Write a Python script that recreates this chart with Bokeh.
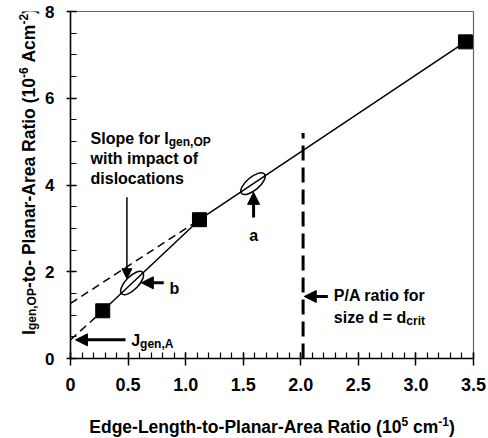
import math
from bokeh.plotting import figure
from bokeh.layouts import row, column
from bokeh.models import Range1d, FixedTicker, Label, Arrow, NormalHead
from bokeh.embed import file_html
from bokeh.resources import INLINE

# ---------------- data ----------------
edge_ratio = [0.28, 1.12, 3.43]          # 10^5 cm^-1
current_ratio = [1.1, 3.2, 7.3]          # 10^-6 A cm^-2
ext_low_x = [0.0, 0.28]
ext_low_y = [0.43, 1.1]
ext_up_x = [0.0, 1.12]
ext_up_y = [1.27, 3.2]
crit_x = [2.02, 2.02]
crit_y = [0.0, 5.2]
ellipse_x = [0.535, 1.585]
ellipse_y = [1.74, 4.03]
ellipse_angle = [0.80, 0.70]
x_ticks = [0, 0.5, 1.0, 1.5, 2.0, 2.5, 3.0, 3.5]
x_tick_labels = ["0", "0.5", "1.0", "1.5", "2.0", "2.5", "3.0", "3.5"]
y_ticks = [0, 2, 4, 6, 8]
y_tick_labels = ["0", "2", "4", "6", "8"]
x_minor = [i / 10 for i in range(36)]
y_minor = [i / 2 for i in range(17)]

# arrows: (x_start, y_start, x_end, y_end, line_width, head_size)
arrows = [
    (0.49, 3.72, 0.49, 1.84, 1.5, 10),
    (0.81, 1.745, 0.615, 1.745, 3, 12),
    (0.478, 0.43, 0.043, 0.43, 3, 12),
    (1.59, 3.25, 1.59, 3.83, 3, 12),
    (2.235, 1.43, 2.03, 1.43, 3, 12),
]

FONT = "Liberation Sans"
W = {' ': 278, '!': 333, '(': 333, ')': 333, ',': 278, '-': 333, '.': 278, '/': 278, '=': 584,
     'A': 722, 'E': 667, 'I': 278, 'J': 556, 'L': 611, 'O': 778, 'P': 667, 'R': 722, 'S': 667,
     'a': 556, 'b': 611, 'c': 556, 'd': 611, 'e': 556, 'f': 333, 'g': 611, 'h': 611, 'i': 278,
     'l': 278, 'm': 889, 'n': 611, 'o': 611, 'p': 611, 'r': 389, 's': 556, 't': 333, 'w': 778,
     'z': 500}
for ch in "0123456789":
    W[ch] = 556


def tw(s, size):
    return sum(W.get(c, 556) for c in s) * size / 1000.0


def add_rich(p, runs, x, y, xo=0.0, yo=0.0, size=16, small=12, sub=4, sup=6,
             angle=0.0, align="left"):
    total = sum(tw(t, size if k == "n" else small) for t, k in runs)
    pos = 0.0 if align == "left" else (-total / 2 if align == "center" else -total)
    for t, k in runs:
        fs = size if k == "n" else small
        shift = 0 if k == "n" else (-sub if k == "sub" else sup)
        stripped = t.lstrip(" ")
        lead = tw(" " * (len(t) - len(stripped)), fs)
        along = pos + lead
        if angle == 0:
            dx, dy = along, shift
        else:
            dx, dy = -shift, along
        p.add_layout(Label(x=x, y=y, x_offset=xo + dx, y_offset=yo + dy, text=stripped,
                           angle=angle, text_font=FONT, text_font_style="bold",
                           text_font_size=f"{fs}px", text_align="left",
                           text_baseline="alphabetic", text_color="black"))
        pos += tw(t, fs)


def blank_fig(w, h):
    f = figure(width=w, height=h, output_backend="svg", toolbar_location=None,
               x_range=Range1d(0, w), y_range=Range1d(0, h),
               x_axis_type=None, y_axis_type=None,
               min_border_left=0, min_border_right=0, min_border_top=0, min_border_bottom=0)
    f.grid.visible = False
    f.outline_line_color = None
    f.background_fill_color = "white"
    f.border_fill_color = "white"
    return f


p = figure(width=448, height=400, output_backend="svg", toolbar_location=None,
           x_range=Range1d(0, 3.5), y_range=Range1d(0, 8),
           min_border_left=30, min_border_right=15, min_border_top=11, min_border_bottom=42)
p.grid.visible = False
p.outline_line_color = "#666666"
p.outline_line_width = 1.2
p.background_fill_color = "white"
p.border_fill_color = "white"

p.xaxis.ticker = FixedTicker(ticks=x_ticks, minor_ticks=x_minor)
p.yaxis.ticker = FixedTicker(ticks=y_ticks, minor_ticks=y_minor)
p.xaxis.major_label_overrides = {float(v): l for v, l in zip(x_ticks, x_tick_labels)}
p.yaxis.major_label_overrides = {float(v): l for v, l in zip(y_ticks, y_tick_labels)}
for ax in (p.xaxis[0], p.yaxis[0]):
    ax.axis_line_width = 1.5
    ax.axis_line_color = "black"
    ax.major_tick_line_width = 1.5
    ax.minor_tick_line_width = 1.2
    ax.major_tick_line_color = "black"
    ax.minor_tick_line_color = "black"
    ax.major_tick_in = 6
    ax.minor_tick_in = 6
    ax.minor_tick_out = 0
    ax.major_label_text_font = FONT
    ax.major_label_text_font_style = "bold"
    ax.major_label_text_color = "black"
p.xaxis.major_tick_out = 7
p.yaxis.major_tick_out = 4
p.xaxis.major_label_text_font_size = "18px"
p.yaxis.major_label_text_font_size = "17px"
p.xaxis.major_label_standoff = 12
p.yaxis.major_label_standoff = 12

# lines
p.line(ext_low_x, ext_low_y, line_color="black", line_width=1.5, line_dash="8 5")
p.line(ext_up_x, ext_up_y, line_color="black", line_width=1.5, line_dash="8 5")
p.line(edge_ratio, current_ratio, line_color="black", line_width=1.5)
p.line(crit_x, crit_y, line_color="black", line_width=3, line_dash="15 7")
p.scatter(edge_ratio, current_ratio, marker="square", size=14, fill_color="black", line_color="black")
p.ellipse(ellipse_x, ellipse_y, width=30, height=13, angle=ellipse_angle,
          width_units="screen", height_units="screen",
          fill_color=None, line_color="black", line_width=1.5)

for xs, ys, xe, ye, lw, hs in arrows:
    p.add_layout(Arrow(x_start=xs, y_start=ys, x_end=xe, y_end=ye, line_width=lw,
                       line_color="black",
                       end=NormalHead(size=hs, fill_color="black", line_color="black", line_width=1)))

# annotations
add_rich(p, [("Slope for I", "n"), ("gen,OP", "sub")], 0.174, 5.08, size=16, small=12)
add_rich(p, [("with impact of", "n")], 0.174, 4.60, size=16)
add_rich(p, [("dislocations", "n")], 0.174, 4.14, size=16)
add_rich(p, [("J", "n"), ("gen,A", "sub")], 0.527, 0.415, size=16, small=12)
add_rich(p, [("b", "n")], 0.86, 1.62, size=16)
add_rich(p, [("a", "n")], 1.59, 2.84, size=16, align="center")
add_rich(p, [("P/A ratio for", "n")], 2.287, 1.45, size=16)
add_rich(p, [("size d = d", "n"), ("crit", "sub")], 2.287, 0.95, size=16, small=12)

# y axis title panel (pixel coordinates, y measured up from its bottom)
yfig = blank_fig(40, 400)
add_rich(yfig, [("I", "n"), ("gen,OP", "sub"), ("-to- Planar-Area Ratio (10", "n"), ("-6", "sup"),
                (" Acm", "n"), ("-2", "sup"), (")", "n")], 28.5, 400 - 184.5, size=17.5, small=12,
         sub=3, sup=6, angle=math.pi / 2, align="center")

# x axis title panel
xfig = blank_fig(488, 38)
add_rich(xfig, [("Edge-Length-to-Planar-Area Ratio (10", "n"), ("5", "sup"), (" cm", "n"),
                ("-1", "sup"), (")", "n")], 271.5, 38 - 26.7, size=17.5, small=12, sup=6,
         align="center")

layout = column(row(yfig, p, spacing=0), xfig, spacing=0)
open("out.html", "w").write(file_html(layout, INLINE))
